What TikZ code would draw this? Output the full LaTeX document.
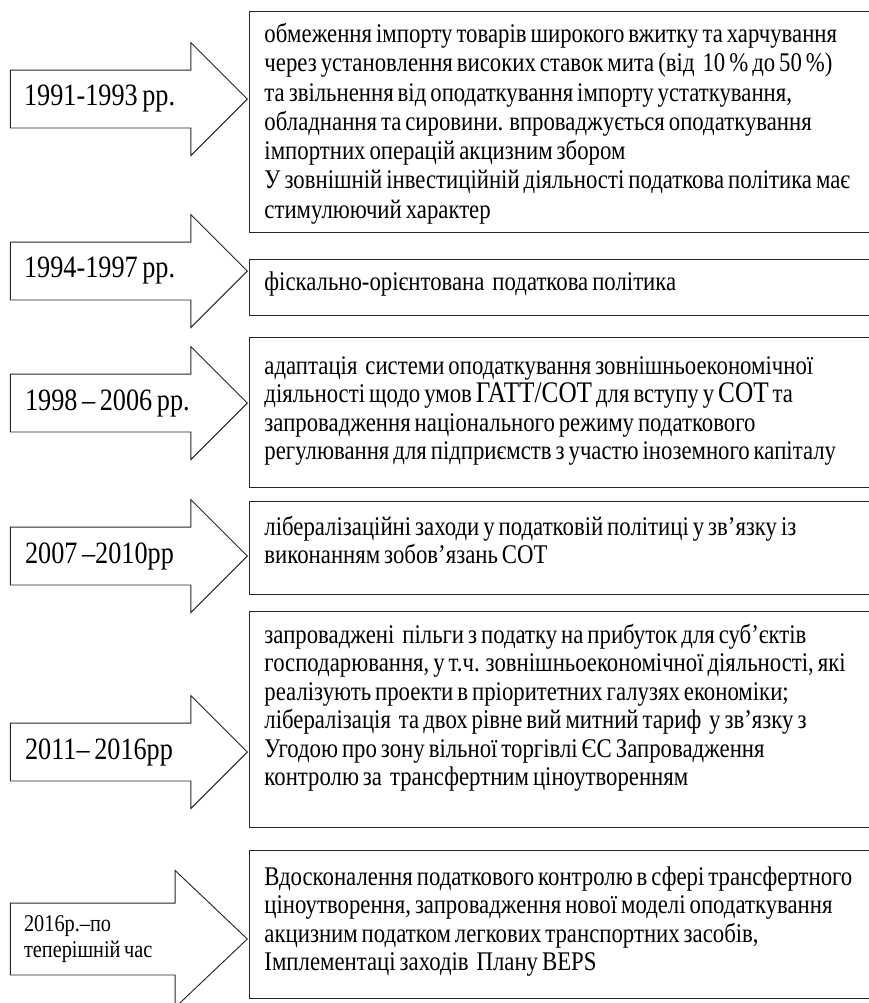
\documentclass[tikz,border=0pt]{standalone}
\usepackage{fontspec}
\setmainfont{Liberation Serif}[FakeStretch = 0.845, WordSpace = 0.7]
\usetikzlibrary{shapes.arrows,positioning}

\newcommand\boxfont{\fontsize{23pt}{24.3pt}\selectfont}
\newcommand\bigcaps{\fontsize{25.5pt}{24.3pt}\selectfont}
\newcommand\datefont{\fontsize{26.5pt}{30pt}\selectfont}
\newcommand\smalldatefont{\fontsize{20.5pt}{22pt}\selectfont}

\tikzset{
  date arrow/.style = {
    shape = single arrow,
    draw  = black!85,
    line width = 0.8pt,
    single arrow tip angle = 90,
    single arrow head extend = 0.825cm,
    minimum width  = 3.36cm,
    minimum height = 7.11cm,
    inner xsep = 0pt,
    inner ysep = 0.855cm,
    anchor = tip},
  date label/.style = {
    inner sep = 0pt,
    align = flush left,
    font = \datefont},
  info box/.style 2 args = {
    shape = rectangle,
    draw  = black!85,
    line width = 0.8pt,
    anchor = north west,
    align = flush left,
    text width = 19.5cm,
    inner xsep = 0.45cm,
    inner ysep = 0pt,
    text height = #1,
    text depth  = #2,
    font = \boxfont}
}

\begin{document}
\begin{tikzpicture}[x = 0.03cm, y = -0.03cm]
  \useasboundingbox (0,0) rectangle (869,1003);
  \clip (0,0) rectangle (869,1003);

  % periods
  \node[date arrow] (per1) at (248,99)  {};
  \node[date arrow] (per2) at (248,271) {};
  \node[date arrow] (per3) at (248,403) {};
  \node[date arrow] (per4) at (248,556) {};
  \node[date arrow] (per5) at (248,752) {};
  \node[date arrow, single arrow tip angle = 87, single arrow head extend = 0.975cm,
        minimum width = 4.08cm, inner ysep = 1.065cm] (per6) at (248,939) {};

  \node[date label, right = 0.42cm of per1.tail] (lab1) {1991-1993 рр.};
  \node[date label, right = 0.42cm of per2.tail] (lab2) {1994-1997 рр.};
  \node[date label, right = 0.45cm of per3.tail] (lab3) {1998 – 2006 рр.};
  \node[date label, right = 0.45cm of per4.tail] (lab4) {2007 –2010рр};
  \node[date label, right = 0.45cm of per5.tail] (lab5) {2011– 2016рр};
  \node[date label, right = 0.42cm of per6.tail, font = \smalldatefont] (lab6) {2016р.–по\\ теперішній час};

  % descriptions
  \node[info box = {0.93cm}{5.70cm}, font = \fontsize{23pt}{25pt}\selectfont] (desc1) at (249,11) {обмеження імпорту товарів широкого вжитку та харчування\\
    через установлення високих ставок мита (від~ 10~\% до 50~\%)\\
    та звільнення від оподаткування імпорту устаткування,\\
    обладнання та сировини. впроваджується оподаткування\\
    імпортних операцій акцизним збором\\
    У зовнішній інвестиційній діяльності податкова політика має\\
    стимулюючий характер};
  \node[info box = {0.93cm}{0.75cm}] (desc2) at (249,259) {фіскально-орієнтована~ податкова політика};
  \node[info box = {1.11cm}{3.39cm}] (desc3) at (249,337) {адаптація~ системи оподаткування зовнішньоекономічної\\
    діяльності щодо умов {\bigcaps ГАТТ/СОТ} для вступу у {\bigcaps СОТ} та\\
    запровадження національного режиму податкового\\
    регулювання для підприємств з участю іноземного капіталу};
  \node[info box = {1.02cm}{1.77cm}] (desc4) at (249,501) {лібералізаційні заходи у податковій політиці у зв’язку із\\
    виконанням зобов’язань СОТ};
  \node[info box = {0.96cm}{5.52cm}] (desc5) at (249,611) {запроваджені~ пільги з податку на прибуток для суб’єктів\\
    господарювання, у т.ч. зовнішньоекономічної діяльності, які\\
    реалізують проекти в пріоритетних галузях економіки;\\
    лібералізація~ та двох рівне вий митний тариф~ у зв’язку з\\
    Угодою про зону вільної торгівлі ЄС Запровадження\\
    контролю за~ трансфертним ціноутворенням};
  \node[info box = {1.05cm}{3.39cm}] (desc6) at (249,850) {Вдосконалення податкового контролю в сфері трансфертного\\
    ціноутворення, запровадження нової моделі оподаткування\\
    акцизним податком легкових транспортних засобів,\\
    Імплементаці заходів~ Плану BEPS};
\end{tikzpicture}
\end{document}
